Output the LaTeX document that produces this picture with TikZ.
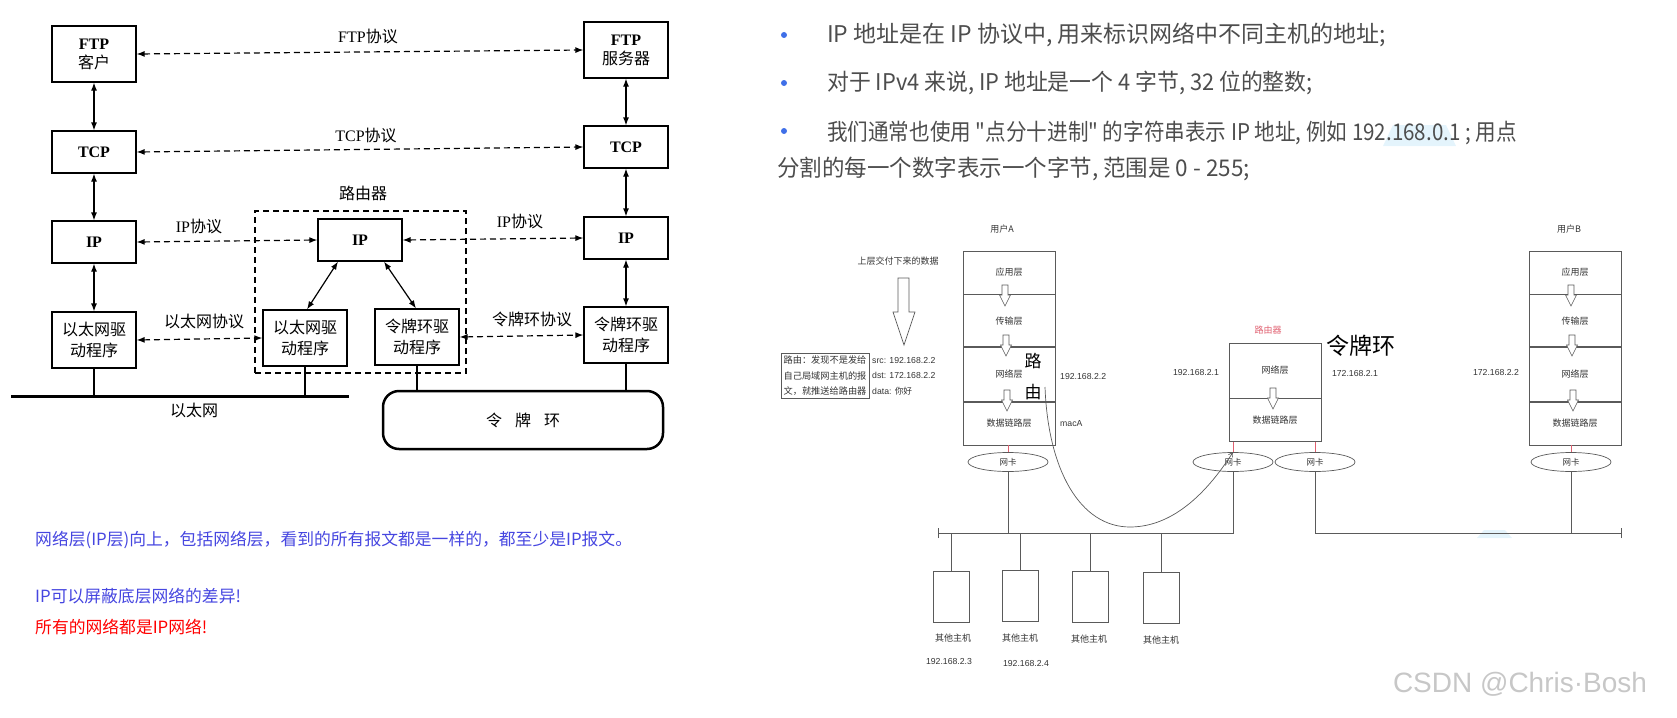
\documentclass[tikz,border=0pt]{standalone}
\usepackage{fontspec}
\setmainfont{Liberation Serif}
\newfontfamily\cjk{Noto Sans CJK SC}
\newfontfamily\arial{Liberation Sans}
\usetikzlibrary{arrows.meta,shapes.geometric,positioning}

\definecolor{txtgrey}{HTML}{4D4D4D}
\definecolor{darktxt}{HTML}{333333}
\definecolor{bulblue}{HTML}{3F6FE8}
\definecolor{noteblue}{HTML}{4646E0}
\definecolor{linegrey}{HTML}{5A5A5A}
\definecolor{nicred}{HTML}{E06070}
\definecolor{hilite}{HTML}{E4F4FC}

\begin{document}
\begin{tikzpicture}[x=1pt,y=-1pt,
  lay/.style={draw,line width=1.2pt,minimum width=84pt,align=center,inner sep=2pt,
    font=\fontsize{16}{19}\selectfont},
  drv/.style={lay,minimum height=56pt,font=\cjk\fontsize{16}{21}\selectfont},
  lbl/.style={font=\fontsize{16}{19}\selectfont},
  link/.style={<->,>={Latex[length=8pt,width=6pt]},line width=1.2pt},
  proto/.style={link,dash pattern=on 6pt off 4pt},
  bul/.style={circle,fill=bulblue,inner sep=0pt,minimum size=6pt},
  para/.style={anchor=west,inner sep=0pt,text=txtgrey,font=\cjk\fontsize{23}{27}\selectfont},
  memo/.style={anchor=west,inner sep=0pt,font=\cjk\fontsize{16.8}{20}\selectfont},
  layer/.style={draw=linegrey,line width=0.7pt,minimum width=92pt,inner sep=0pt,
    text=darktxt,font=\cjk\fontsize{9}{11}\selectfont},
  small/.style={text=darktxt,inner sep=1pt,font=\cjk\fontsize{9}{11}\selectfont},
  addr/.style={text=darktxt,inner sep=1pt,font=\arial\fontsize{8.7}{11}\selectfont},
  nic/.style={ellipse,draw=linegrey,line width=0.7pt,minimum width=80pt,minimum height=19pt,
    inner sep=0pt,text=darktxt,font=\cjk\fontsize{8.5}{10}\selectfont},
  host/.style={draw=linegrey,line width=0.7pt,minimum width=36pt,minimum height=51pt,inner sep=0pt},
  wire/.style={draw=linegrey,line width=0.7pt},
  harr/.pic={\draw[fill=white,draw=linegrey,line width=0.6pt]
    (-3,0) -- (-3,10) -- (-5.5,10) -- (0,21) -- (5.5,10) -- (3,10) -- (3,0) -- cycle;}
]
\useasboundingbox (0,0) rectangle (1677,717);

% Protocol stacks (left figure)
\node[lay,minimum height=56pt] (ftpc) at (94,54) {\textbf{FTP}\\\cjk 客户};
\node[lay,minimum height=56pt] (ftps) at (626,50) {\textbf{FTP}\\\cjk 服务器};
\node[lay,minimum height=42pt] (tcpc) at (94,152) {\textbf{TCP}};
\node[lay,minimum height=42pt] (tcps) at (626,147) {\textbf{TCP}};
\node[lay,minimum height=42pt] (ipc) at (94,242) {\textbf{IP}};
\node[lay,minimum height=42pt] (ipr) at (360,240) {\textbf{IP}};
\node[lay,minimum height=42pt] (ips) at (626,238) {\textbf{IP}};
\node[drv] (ethc) at (94,340) {以太网驱\\动程序};
\node[drv] (ethr) at (305,338) {以太网驱\\动程序};
\node[drv] (tokr) at (417,337) {令牌环驱\\动程序};
\node[drv] (toks) at (626,335) {令牌环驱\\动程序};

% Router frame
\node[draw,line width=1.2pt,dash pattern=on 6pt off 4pt,minimum width=211pt,minimum height=162pt]
  (rtbox) at (360.5,292) {};
\node[lbl,font=\cjk\fontsize{16}{19}\selectfont] (rtlbl) at (363,193) {路由器};

% Networks
\draw[line width=3pt] (11,396) coordinate (el) -- (349,396) coordinate (er);
\node[lbl,font=\cjk\fontsize{16}{19}\selectfont] (ethlbl) at (194,410) {以太网};
\node[draw,line width=2.5pt,rounded corners=16pt,minimum width=280pt,minimum height=58pt,
  font=\cjk\fontsize{16}{19}\selectfont] (ring) at (523,420) {令\hspace{13pt}牌\hspace{13pt}环};

\draw[line width=1.2pt] (ethc.south) -- (ethc.south |- el);
\draw[line width=1.2pt] (ethr.south) -- (ethr.south |- el);
\draw[line width=1.2pt] (tokr.south) -- (tokr.south |- ring.north);
\draw[line width=1.2pt] (toks.south) -- (toks.south |- ring.north);

% Layer links
\draw[link] (ftpc) -- (tcpc);
\draw[link] (tcpc) -- (ipc);
\draw[link] (ipc) -- (ethc);
\draw[link] (ftps) -- (tcps);
\draw[link] (tcps) -- (ips);
\draw[link] (ips) -- (toks);
\draw[link] ([xshift=-22pt]ipr.south) -- ([xshift=2pt]ethr.north);
\draw[link] ([xshift=24pt]ipr.south) -- ([xshift=-1pt]tokr.north);

% Peer protocols
\draw[proto] (ftpc.east) -- (ftps.west);
\draw[proto] (tcpc.east) -- (tcps.west);
\draw[proto] (ipc.east) -- (ipr.west);
\draw[proto] (ipr.east) -- (ips.west);
\draw[proto] (ethc.east) -- (ethr.west);
\draw[proto] (tokr.east) -- (toks.west);
\node[lbl] (ftpp) at (368,36) {FTP{\cjk 协议}};
\node[lbl] (tcpp) at (366,135) {TCP{\cjk 协议}};
\node[lbl] (ipp1) at (199,226) {IP{\cjk 协议}};
\node[lbl] (ipp2) at (520,221) {IP{\cjk 协议}};
\node[lbl,font=\cjk\fontsize{16}{19}\selectfont] (ethp) at (204,321) {以太网协议};
\node[lbl,font=\cjk\fontsize{16}{19}\selectfont] (tokp) at (532,319) {令牌环协议};

% Notes under the left figure
\node[memo,text=noteblue] (m1) at (35,540) {网络层(IP层)向上，包括网络层，看到的所有报文都是一样的，都至少是IP报文。};
\node[memo,text=noteblue] (m2) at (35,596) {IP可以屏蔽底层网络的差异!};
\node[memo,text=red] (m3) at (35,627) {所有的网络都是IP网络!};

% Bullet text
\fill[hilite] (1383,146) -- (1393,125) -- (1446,125) -- (1456,146) -- cycle;
\node[bul] (b1) at (784,35) {};
\node[bul] (b2) at (784,83) {};
\node[bul] (b3) at (784,131) {};
\node[para] (t1) at (827,35) {IP 地址是在 IP 协议中, 用来标识网络中不同主机的地址;};
\node[para] (t2) at (827,83) {\scalebox{0.95}[1]{对于 IPv4 来说, IP 地址是一个 4 字节, 32 位的整数;}};
\node[para] (t3) at (827,133) {\scalebox{0.895}[1]{我们通常也使用 "点分十进制" 的字符串表示 IP 地址, 例如 192.168.0.1 ; 用点}};
\node[para] (t4) at (777,169) {\scalebox{0.978}[1]{分割的每一个数字表示一个字节, 范围是 0 - 255;}};

% User A
\node[small] (uA) at (1002,229) {用户A};
\node[layer,minimum height=43pt] (appA) at (1009,272.5) {应用层};
\node[layer,minimum height=52pt,below=0pt of appA] (trA) {传输层};
\node[layer,minimum height=54pt,below=0pt of trA] (netA) {网络层};
\node[layer,minimum height=43pt,below=0pt of netA] (dlA) {数据链路层};
\pic at (1005,285) {harr};
\pic at (1006,335) {harr};
\pic at (1007,390) {harr};

% Data handed down
\node[small] (down) at (898,261) {上层交付下来的数据};
\draw[fill=white,draw=linegrey,line width=0.7pt]
  (898,278) -- (898,312) -- (893,312) -- (904,345) -- (915,312) -- (909,312) -- (909,278) -- cycle;
\node[draw=linegrey,line width=0.7pt,align=left,inner sep=2.5pt,text=darktxt,
  font=\cjk\fontsize{9.2}{15.5}\selectfont] (note) at (825,376)
  {路由：发现不是发给\\自己局域网主机的报\\文，就推送给路由器};
\node[addr,anchor=west,align=left,font=\arial\fontsize{8.7}{15.5}\selectfont] (pkt) at (871,376)
  {src: 192.168.2.2\\dst: 172.168.2.2\\data: {\cjk 你好}};
\node[addr,anchor=west] (ipA) at (1059,376) {192.168.2.2};
\node[addr,anchor=west] (mac) at (1059,424) {macA};
\node[inner sep=0pt,font=\cjk\fontsize{17}{17}\selectfont] (lu) at (1033,361) {路};
\node[inner sep=0pt,font=\cjk\fontsize{17}{17}\selectfont] (you) at (1033,392) {由};

% Router
\node[small,text=nicred] (rA) at (1268,330) {路由器};
\node[layer,minimum height=55pt] (netR) at (1275,370.5) {网络层};
\node[layer,minimum height=43pt,below=0pt of netR] (dlR) {数据链路层};
\pic at (1273,388) {harr};
\node[addr] (ipRl) at (1196,373) {192.168.2.1};
\node[addr] (ipRr) at (1355,374) {172.168.2.1};
\node[inner sep=0pt,font=\cjk\fontsize{23}{23}\selectfont] (ring2) at (1361,346) {令牌环};

% User B
\node[small] (uB) at (1569,229) {用户B};
\node[layer,minimum height=43pt] (appB) at (1575,272.5) {应用层};
\node[layer,minimum height=52pt,below=0pt of appB] (trB) {传输层};
\node[layer,minimum height=54pt,below=0pt of trB] (netB) {网络层};
\node[layer,minimum height=43pt,below=0pt of netB] (dlB) {数据链路层};
\pic at (1571,285) {harr};
\pic at (1572,335) {harr};
\pic at (1573,390) {harr};
\node[addr] (ipB) at (1496,373) {172.168.2.2};

% Network cards
\node[nic] (nicA) at (1008,462) {网卡};
\node[nic] (nicRL) at (1233,462) {网卡};
\node[nic] (nicRR) at (1315,462) {网卡};
\node[nic] (nicB) at (1571,462) {网卡};
\draw[nicred,line width=0.7pt] (nicA.north) -- (nicA.north |- dlA.south);
\draw[nicred,line width=0.7pt] (nicRL.north) -- (nicRL.north |- dlR.south);
\draw[nicred,line width=0.7pt] (nicRR.north) -- (nicRR.north |- dlR.south);
\draw[nicred,line width=0.7pt] (nicB.north) -- (nicB.north |- dlB.south);

% Buses
\coordinate (busL) at (938,533);
\coordinate (busR) at (1621,533);
\fill[hilite] (1477,538) -- (1484,530) -- (1505,530) -- (1512,538) -- cycle;
\draw[wire] (busL) -- (nicRL.south |- busL) -- (nicRL.south);
\draw[wire] (nicA.south) -- (nicA.south |- busL);
\draw[wire] (nicRR.south) -- (nicRR.south |- busR) -- (busR);
\draw[wire] (nicB.south) -- (nicB.south |- busR);
\draw[wire] ([yshift=-5pt]busL) -- ([yshift=5pt]busL);
\draw[wire] ([yshift=-5pt]busR) -- ([yshift=5pt]busR);

% Other hosts
\node[host] (h1) at (951,596.5) {};
\node[host] (h2) at (1020,596) {};
\node[host] (h3) at (1090,597) {};
\node[host] (h4) at (1161,597.5) {};
\foreach \h in {h1,h2,h3,h4}
  \draw[wire] (\h.north) -- (\h.north |- busL);
\node[small] (h1t) at (953,638) {其他主机};
\node[small] (h2t) at (1020,638) {其他主机};
\node[small] (h3t) at (1089,639) {其他主机};
\node[small] (h4t) at (1161,640) {其他主机};
\node[addr] (h1a) at (949,661) {192.168.2.3};
\node[addr] (h2a) at (1026,663) {192.168.2.4};

% Routing path
\coordinate (cs) at (1045,387);
\draw[wire,-{Straight Barb[length=4pt,width=5pt]}] (cs) .. controls (1048,470) and (1080,527) .. (1130,527)
  .. controls (1180,527) and (1215,480) .. (nicRL.north);

% Watermark
\node[font=\arial\fontsize{28}{28}\selectfont,text=black!22] (wm) at (1520,684) {CSDN @Chris·Bosh};
\end{tikzpicture}
\end{document}
